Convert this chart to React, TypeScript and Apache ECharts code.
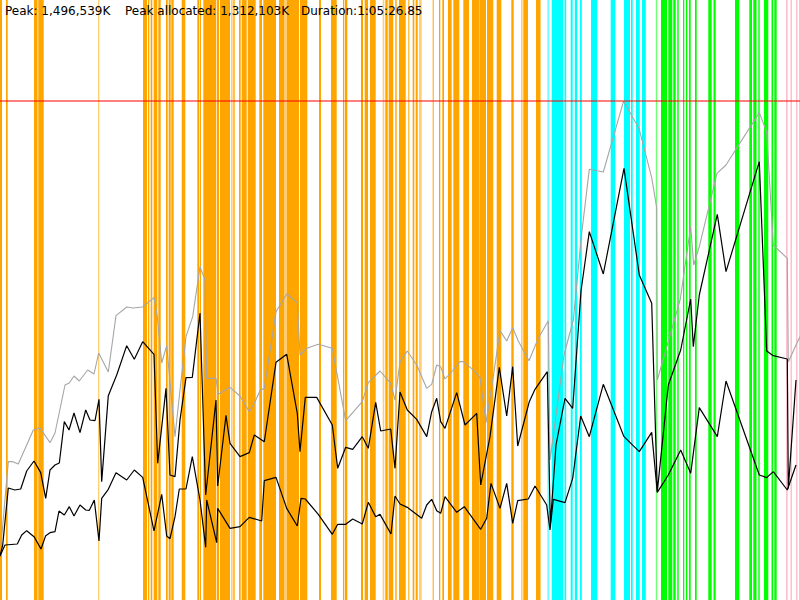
import React, { useEffect, useRef } from "react";
import * as echarts from "echarts";

// time axis (arbitrary time units across the recording) and memory axis (MB)
const TIME_MAX = 800;
const MEM_MAX = 1800;
const PEAK_MB = 1496.539;

const headerTexts = ["Peak: 1,496,539K", "Peak allocated: 1,312,103K", "Duration:1:05:26.85"];

// GC / event bands: [start, end]
const orangeBands: [number, number][] = [
  [0, 2], [6, 7.7], [34, 37.3], [38.3, 43.7],
  [143, 147], [148, 149.3], [150.7, 152.3], [153.7, 157.3], [158.3, 160.7], [166, 167.7], [168.7, 170.7],
  [171.3, 173.7], [181.7, 185.3], [197.3, 199.3],
  [200, 201], [203.3, 216], [216.7, 219], [220, 230], [233.3, 234.7], [239, 240.7], [241.7, 246.7],
  [247.7, 255.7], [259.3, 262], [263.3, 276], [279, 284.3], [286.7, 299], [300, 307.3], [319, 321],
  [331, 336.7], [343, 344], [344.7, 347.3], [361, 363], [364.7, 368], [370, 375.7], [385.3, 387.7],
  [388.7, 393.3], [395.3, 396.7], [399, 405.7], [408.3, 409.3], [412.7, 414.3], [415.7, 417.7],
  [432.7, 433.7], [439, 440.3], [442.3, 444], [448, 451.7], [453.3, 459.3], [463.3, 469], [472, 479],
  [479.3, 486], [487, 493.3], [496.7, 501.3], [511.3, 513.7], [523.3, 528], [536, 540],
];
const orangeFaintBands: [number, number][] = [
  [37.3, 38.3], [98, 99.3], [231, 232.7], [284.3, 286.7], [382.7, 384.3], [419, 421.7], [521, 522.7], [540, 541],
];
const cyanBands: [number, number][] = [
  [551.7, 563.3], [564.5, 566.2], [570.7, 572.7], [574.8, 577.2], [579.8, 581.8], [591, 597.3],
  [610.7, 615.3], [624, 630], [631, 632.7], [636, 639.8], [642, 645.8],
];
const cyanFaintBands: [number, number][] = [[547.3, 549.3]];
const greenBands: [number, number][] = [
  [661, 667], [668.3, 672.3], [673.3, 675.7], [677.3, 678.7], [683, 684.3], [686, 687.3], [689, 690.7],
  [695, 696.7], [708.3, 711.7], [713.5, 715.7], [735, 739.3], [749.3, 752], [753.3, 756.5], [758.3, 759.7],
  [764, 768.3], [771.5, 773.2], [774.3, 776.7],
];
const greenFaintBands: [number, number][] = [[655.8, 657.2]];
const pinkBands: [number, number][] = [[786, 787.7], [790.5, 792], [796, 797.5], [799, 800]];

// heap size (MB)
const heapSize: [number, number][] = [
  [1, 165], [8.3, 415], [12.7, 415], [18.3, 408], [33.3, 510], [40, 516], [50, 472], [55, 501], [65, 645],
  [69.3, 651], [74, 672], [79.3, 657], [87.7, 690], [94, 678], [98.7, 741], [108.3, 684], [116, 853],
  [126.7, 879], [133.3, 876], [142.7, 879], [154, 907], [157.3, 850], [161.7, 711], [166.7, 763], [175, 490],
  [180, 630], [186, 790], [192.7, 850], [200, 1000], [205, 960], [206.7, 665], [216, 665], [218.3, 617],
  [230, 638], [240, 612], [249.3, 565], [255, 595], [260, 628], [264.3, 635], [276, 865], [286.7, 918],
  [297.3, 892], [300, 735], [306.7, 755], [318.3, 767], [332.3, 755], [345.7, 538], [362.3, 595],
  [368.3, 652], [380, 687], [390.7, 650], [395, 600], [400, 715], [407.3, 747], [416.7, 705], [426.7, 635],
  [431.7, 647], [436.7, 705], [440.7, 700], [445, 663], [453.3, 690], [460, 715], [463.3, 715], [472.7, 692],
  [480, 668], [486, 532], [493.3, 670], [500, 808], [506.7, 777], [512.7, 817], [518.3, 777], [529, 718],
  [538.3, 785], [548.3, 838], [550, 420], [564, 735], [573.3, 840], [581.7, 1100], [589.3, 1292],
  [603.3, 1284], [623.5, 1496], [639, 1415], [651.7, 1267], [656.7, 1177], [657.3, 660], [668.3, 775],
  [680.3, 903], [690.7, 1121], [693.7, 1005], [699.3, 1060], [717, 1280], [726, 1305], [759.3, 1462],
  [766.7, 1404], [773.3, 1065], [787.3, 1025], [788.3, 714], [796, 765], [800, 790],
];

// used after collection, upper trace (MB)
const usedUpper: [number, number][] = [
  [0, 132], [2.7, 165], [8.3, 336], [15, 330], [20.7, 333], [26.7, 387], [34, 417], [40.7, 382], [45.7, 305],
  [50, 390], [55, 405], [59.3, 411], [64.3, 535], [69, 510], [74, 561], [80, 502], [85.7, 570], [90, 540],
  [95, 538], [99, 602], [101.7, 355], [108.3, 613], [116.7, 675], [126.7, 763], [134.3, 722], [142.7, 775],
  [154, 737], [157.7, 410], [166, 635], [170, 375], [175, 370], [180, 540], [186, 667], [192.3, 668],
  [200, 861], [205.7, 315], [216, 600], [217.7, 342], [226, 554], [230, 470], [240, 430], [249.3, 442],
  [254.3, 495], [264.3, 475], [276, 713], [286.7, 737], [297.3, 560], [300, 445], [305.3, 608], [316.7, 608],
  [332.3, 525], [337.7, 395], [345.7, 458], [352.7, 452], [362.3, 490], [368.3, 455], [375.7, 593],
  [380.7, 507], [390.7, 513], [395, 395], [400, 624], [407.3, 570], [416.7, 542], [426.7, 490], [431.7, 565],
  [436.7, 605], [440.7, 535], [445, 515], [456.7, 622], [465, 525], [476.7, 560], [480.7, 345], [490, 490],
  [499.3, 698], [506.7, 552], [512.7, 700], [517.7, 462], [529.3, 595], [535, 632], [547.3, 685],
  [550.3, 225], [556, 465], [565, 605], [572.7, 575], [581, 927], [589.3, 1105], [603.3, 978], [624, 1295],
  [639.3, 975], [651.7, 890], [657.3, 325], [668.3, 645], [680.7, 750], [690.7, 903], [693.3, 760],
  [699.3, 915], [717.3, 1157], [726, 985], [759.3, 1315], [766.7, 747], [773.3, 733], [787.3, 723],
  [788.3, 335], [796, 660],
];

// used after collection, lower trace (MB)
const usedLower: [number, number][] = [
  [0, 132], [5, 165], [17.3, 168], [21.7, 195], [26.7, 208], [34, 190], [41, 153], [45.7, 193], [50, 202],
  [55, 205], [59, 267], [64.3, 255], [69.3, 280], [74, 252], [80, 285], [85.7, 270], [89.3, 269], [94.3, 300],
  [99, 177], [101.7, 305], [108.3, 332], [116, 382], [126.7, 360], [134.3, 390], [142.7, 368], [154, 207],
  [161.7, 317], [166.7, 192], [170, 184], [175, 250], [179.3, 333], [186, 333], [192.3, 430], [200, 300],
  [205.7, 158], [206.7, 300], [216.7, 172], [217.7, 275], [230, 215], [240, 220], [249.3, 248], [261.7, 237],
  [264.3, 358], [276, 368], [286.7, 275], [297.3, 222], [301, 305], [305.3, 303], [318.3, 257], [332.3, 197],
  [337.7, 227], [345.7, 227], [352.7, 243], [362.3, 228], [368.3, 293], [375.7, 250], [380, 257], [391, 198],
  [395, 312], [400, 288], [407.3, 278], [421.7, 245], [426.7, 285], [431.7, 302], [436.7, 268], [440.7, 260],
  [445, 310], [456.7, 263], [464.3, 280], [480.7, 212], [486.7, 245], [491, 350], [500, 275], [506.7, 350],
  [512.7, 230], [517.7, 298], [528.3, 303], [535, 342], [546.7, 285], [550, 210], [553.3, 302], [565, 292],
  [572.7, 365], [580.7, 552], [589.3, 490], [600, 610], [603.3, 647], [624, 490], [639.3, 445], [651.7, 503],
  [657.3, 323], [668.3, 375], [680.7, 450], [690.7, 380], [699.3, 577], [717.3, 490], [726, 657],
  [759.3, 375], [766.7, 367], [773.3, 385], [787.3, 330], [796, 405],
];

function bandSeries(name: string, data: [number, number][], color: string, opacity: number) {
  return {
    name,
    type: "custom",
    silent: true,
    z: 1,
    encode: { x: [0, 1] },
    data,
    renderItem: (_params: any, api: any) => {
      const p0 = api.coord([api.value(0), MEM_MAX]);
      const p1 = api.coord([api.value(1), 0]);
      return {
        type: "rect",
        shape: { x: p0[0], y: p0[1], width: Math.max(p1[0] - p0[0], 1), height: p1[1] - p0[1] },
        style: { fill: color, opacity },
      };
    },
  };
}

function lineSeries(name: string, data: [number, number][], color: string, width: number, extra: any = {}) {
  return {
    name,
    type: "line",
    data,
    symbol: "none",
    z: 3,
    silent: true,
    lineStyle: { color, width },
    ...extra,
  };
}

export default function App() {
  const ref = useRef<HTMLDivElement>(null);
  useEffect(() => {
    document.body.style.margin = "0";
    if (!ref.current) return;
    const chart = echarts.init(ref.current, null, { renderer: "svg" });
    const font = "'DejaVu Sans', sans-serif";
    const xs = [5, 125, 301];
    chart.setOption({
      animation: false,
      backgroundColor: "#ffffff",
      grid: { left: 0, right: 0, top: 0, bottom: 0 },
      xAxis: { type: "value", min: 0, max: TIME_MAX, show: false },
      yAxis: { type: "value", min: 0, max: MEM_MAX, show: false },
      graphic: headerTexts.map((t, i) => ({
        type: "text",
        left: xs[i],
        top: 5,
        z: 100,
        style: { text: t, fill: "#000", font: `12px ${font}` },
      })),
      series: [
        bandSeries("orange", orangeBands, "#ffa500", 1),
        bandSeries("orangeFaint", orangeFaintBands, "#ffa500", 0.55),
        bandSeries("cyan", cyanBands, "#00ffff", 1),
        bandSeries("cyanFaint", cyanFaintBands, "#00ffff", 0.55),
        bandSeries("green", greenBands, "#00ff00", 1),
        bandSeries("greenFaint", greenFaintBands, "#00ff00", 0.55),
        bandSeries("pink", pinkBands, "#ffc0cb", 1),
        lineSeries("heap", heapSize, "#a6a6a6", 1.1, {
          markLine: {
            silent: true,
            symbol: "none",
            label: { show: false },
            lineStyle: { color: "rgba(255,0,0,0.5)", width: 2, type: "solid" },
            data: [{ yAxis: PEAK_MB }],
            z: 5,
          },
        }),
        lineSeries("usedUpper", usedUpper, "#000000", 1.2),
        lineSeries("usedLower", usedLower, "#000000", 1.2),
      ],
    });
    return () => chart.dispose();
  }, []);
  return <div ref={ref} style={{ width: 800, height: 600 }} />;
}
